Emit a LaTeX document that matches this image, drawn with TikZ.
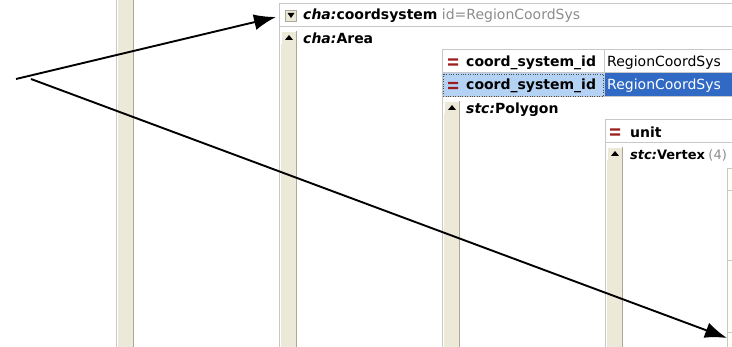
\documentclass[tikz,border=0pt]{standalone}
\usepackage{fontspec}
\setmainfont{DejaVu Sans}
\usetikzlibrary{arrows.meta, positioning}

\definecolor{boxgray}{HTML}{C8C8C8}
\definecolor{barbeige}{HTML}{ECE9D8}
\definecolor{bardark}{HTML}{ACA899}
\definecolor{eqred}{HTML}{9B1C1C}
\definecolor{selpale}{HTML}{B4D2F4}
\definecolor{selblue}{HTML}{316AC5}
\definecolor{dimtext}{HTML}{8C8C8C}

\begin{document}
\begin{tikzpicture}[
  x=1pt, y=-1pt,
  font=\fontsize{14}{16}\selectfont,
  frame/.style={draw=boxgray, line width=1pt},
  lbl/.style={anchor=base west, inner sep=0pt, font=\fontsize{14}{16}\selectfont\bfseries},
  val/.style={anchor=base west, inner sep=0pt},
  dim/.style={val, text=dimtext},
  dropbtn/.style={draw=bardark, fill=barbeige, minimum size=11pt, inner sep=0pt},
  pointer/.style={line width=1.9pt, -{Latex[length=22pt, width=16pt]}}
]
  \useasboundingbox (0,0) rectangle (732,347);
  \fill[white] (0,0) rectangle (732,347);

  % tree bars down the left of each level
  \foreach \bx/\btop/\bfill in {116/0/0, 279/4/31, 442/50/101, 605/120/147} {
    \draw[boxgray, line width=1pt] (\bx,\btop) -- (\bx,347);
    \fill[barbeige] (\bx+2,\bfill) rectangle (\bx+17,347);
    \draw[bardark, line width=1.5pt] (\bx+17.5,\bfill) -- (\bx+17.5,347);
  }
  % collapse buttons on top of the bars
  \foreach \bx/\by in {279/31, 442/101, 605/147} {
    \draw[white, line width=1pt] (\bx+2.5,\by+13) -- (\bx+2.5,\by+0.5) -- (\bx+16.5,\by+0.5);
    \fill (\bx+6,\by+9) -- (\bx+14,\by+9) -- (\bx+10,\by+4) -- cycle;
  }

  % element frames
  \draw[frame] (279,4) -- (740,4);
  \draw[frame] (279,27) -- (740,27);
  \draw[frame] (442,50) -- (740,50);
  \draw[frame] (442,73) -- (740,73);
  \draw[frame] (442,97) -- (740,97);
  \draw[frame] (604,50) -- (604,97);
  \draw[frame] (605,120) -- (740,120);
  \draw[frame] (605,143) -- (740,143);
  \filldraw[fill=yellow!5, draw=boxgray] (727.5,168) rectangle (740,352);
  \foreach \ly in {190, 260, 332}
    \draw[boxgray] (727.5,\ly) -- (732,\ly);

  % selected attribute row
  \fill[selpale] (443,73.5) rectangle (603.5,96.5);
  \draw[black!70, dotted] (443.5,74) rectangle (603,96);
  \fill[selblue] (604.5,73.5) rectangle (732,96.5);

  % attribute markers
  \foreach \ex/\ey in {448/62, 448/85.5, 610/132}
    \fill[eqred] (\ex,\ey-3.7) rectangle (\ex+10,\ey-1.3)
                 (\ex,\ey+1.3) rectangle (\ex+10,\ey+3.7);

  % header of the element
  \node[dropbtn] (drop) at (291,15.5) {};
  \fill (287.5,13) -- (294.5,13) -- (291,18) -- cycle;
  \node[lbl] (coordsys) at (303,20) {\textit{cha:}coordsystem};
  \node[dim, right=4pt of coordsys.base east, anchor=base west] (sysid) {id=RegionCoordSys};

  \node[lbl] (area) at (303,44) {\textit{cha:}Area};
  \node[lbl] (key1) at (466,67) {coord\_system\_id};
  \node[val] (val1) at (607,67) {RegionCoordSys};
  \node[lbl] (key2) at (466,90) {coord\_system\_id};
  \node[val, text=white] (val2) at (607,90) {RegionCoordSys};
  \node[lbl] (polygon) at (466,114) {\textit{stc:}Polygon};
  \node[lbl] (unit) at (630,138) {unit};
  \node[lbl, font=\fontsize{13}{16}\selectfont\bfseries] (vertex) at (630,160) {\textit{stc:}Vertex};
  \node[dim, font=\fontsize{13}{16}\selectfont, right=3pt of vertex.base east, anchor=base west] (count) {(4)};

  % pointers
  \coordinate (origin) at (16,79);
  \coordinate (origin2) at (31,79);
  \coordinate (hdrtip) at (276,17);
  \coordinate (celltip) at (727,338);
  \draw[pointer] (origin) -- (hdrtip);
  \draw[pointer] (origin2) -- (celltip);
\end{tikzpicture}
\end{document}
